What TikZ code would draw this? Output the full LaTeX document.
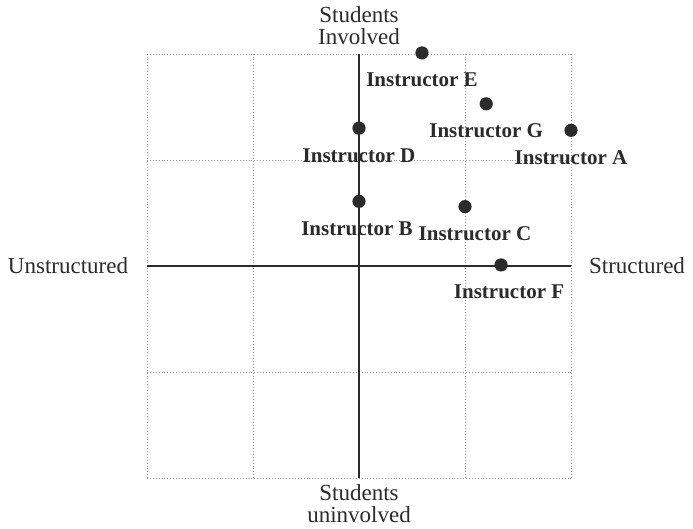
\documentclass[tikz,border=0pt]{standalone}
\usepackage{fontspec}
\setmainfont{Liberation Serif}
\usetikzlibrary{positioning}
\definecolor{Ink}{HTML}{2B2B2B}
\definecolor{GridGray}{HTML}{959595}
\tikzset{grid line/.style={draw=GridGray,densely dotted,line width=.45pt},axis/.style={draw=Ink,line width=.7pt},point/.style={circle,fill=Ink,minimum size=6.6pt,inner sep=0pt},who/.style={font=\fontsize{10.5}{12}\selectfont\bfseries,text=Ink,label distance=3pt},pole/.style={font=\fontsize{11.5}{11}\selectfont,text=Ink,align=center}}

\begin{document}
\begin{tikzpicture}[x=53pt,y=53pt]
        \useasboundingbox(-3.3868,-2.4717)rectangle(3.1509,2.5094);
        % grid of the quadrants
        \foreach \k in {-2,-1,1,2}{
          \draw[grid line](\k,-2)--(\k,2);
          \draw[grid line](-2,\k)--(2,\k);
        }
        \draw[axis](-2,0)--(2,0);
        \draw[axis](0,-2)--(0,2);
        % ends of the axes
        \node[pole](involved)at(0,2.264){Students\\Involved};
        \node[pole](uninvolved)at(0,-2.24){Students\\uninvolved};
        \node[pole](unstruct)at(-2.745,0){Unstructured};
        \node[pole](struct)at(2.623,0){Structured};
        % instructors
        \node[point,label={[who]below:Instructor E}](instrE)at(.594,2.01){};
        \node[point,label={[who]below:Instructor G}](instrG)at(1.2,1.53){};
        \node[point,label={[who]below:Instructor D}](instrD)at(0,1.30){};
        \node[point,label={[who]below:Instructor A}](instrA)at(2,1.28){};
        \node[point,label={[who,xshift=-1pt]below:Instructor B}](instrB)at(0,.61){};
        \node[point,label={[who,xshift=5pt]below:Instructor C}](instrC)at(1,.56){};
        \node[point,label={[who,xshift=4pt]below:Instructor F}](instrF)at(1.34,.01){};
      \end{tikzpicture}
\end{document}
